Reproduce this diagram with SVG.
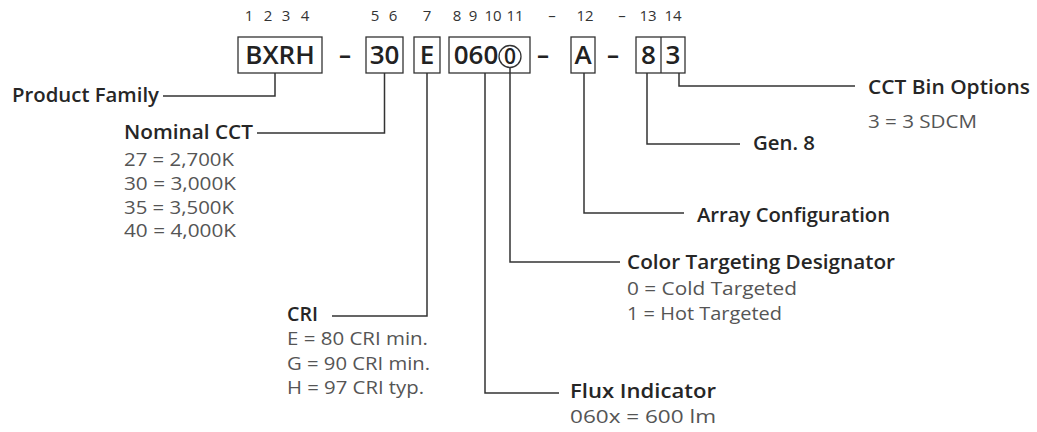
<svg xmlns="http://www.w3.org/2000/svg" width="1037" height="432" viewBox="0 0 1037 432">
<style>
text{font-family:"Open Sans","Liberation Sans",sans-serif}
.box{fill:#fff;stroke:#333;stroke-width:1.3}
.code{font-size:26px;font-weight:600;fill:#222;text-anchor:middle}
.dash{font-size:24px;font-weight:700;fill:#222;text-anchor:middle}
.pos{font-size:15px;fill:#333;text-anchor:middle}
.h{font-size:20px;font-weight:600;fill:#262626}
.v{font-size:18px;font-weight:400;fill:#555}
.conn{fill:none;stroke:#333;stroke-width:1.5}
</style>
<g id="positions">
<text class="pos" x="249" y="21">1</text>
<text class="pos" x="268" y="21">2</text>
<text class="pos" x="286" y="21">3</text>
<text class="pos" x="305" y="21">4</text>
<text class="pos" x="375" y="21">5</text>
<text class="pos" x="393" y="21">6</text>
<text class="pos" x="427" y="21">7</text>
<text class="pos" x="457" y="21">8</text>
<text class="pos" x="473" y="21">9</text>
<text class="pos" x="493" y="21">10</text>
<text class="pos" x="515" y="21">11</text>
<text class="pos" x="552" y="21">–</text>
<text class="pos" x="585" y="21">12</text>
<text class="pos" x="622" y="21">–</text>
<text class="pos" x="648" y="21">13</text>
<text class="pos" x="673" y="21">14</text>
</g>
<g id="code-bxrh"><rect class="box" x="238" y="37" width="84" height="36"/><text class="code" x="280" y="64">BXRH</text></g>
<text class="dash" x="345" y="63">–</text>
<g id="code-30"><rect class="box" x="366" y="37" width="37" height="36"/><text class="code" x="384.5" y="64">30</text></g>
<g id="code-e"><rect class="box" x="414" y="37" width="26" height="36"/><text class="code" x="427" y="64">E</text></g>
<g id="code-0600"><rect class="box" x="449" y="37" width="81" height="36"/><text class="code" x="476" y="64">060</text><circle cx="510" cy="56.5" r="11" fill="none" stroke="#333" stroke-width="1.3"/><text class="code" x="510" y="64" style="font-size:21px">0</text></g>
<text class="dash" x="543" y="63">–</text>
<g id="code-a"><rect class="box" x="571" y="37" width="24" height="36"/><text class="code" x="583" y="64">A</text></g>
<text class="dash" x="613" y="63">–</text>
<g id="code-83"><rect class="box" x="636" y="37" width="49" height="36"/><line x1="661" y1="37" x2="661" y2="73" stroke="#333" stroke-width="1.3"/><text class="code" x="648.5" y="64">8</text><text class="code" x="673" y="64">3</text></g>
<g id="connectors">
<path class="conn" d="M275,73 V96 H163"/>
<path class="conn" d="M384.5,73 V133 H257"/>
<path class="conn" d="M427,73 V316 H332"/>
<path class="conn" d="M485,73 V393 H559"/>
<path class="conn" d="M510,67.5 V262 H620"/>
<path class="conn" d="M584,73 V213 H684"/>
<path class="conn" d="M647,73 V144 H740"/>
<path class="conn" d="M679,73 V86 H855"/>
</g>
<g id="product-family"><text class="h" x="12" y="102" textLength="147" lengthAdjust="spacingAndGlyphs">Product Family</text></g>
<g id="nominal-cct"><text class="h" x="124" y="139" textLength="129" lengthAdjust="spacingAndGlyphs">Nominal CCT</text>
<text class="v" x="124" y="166" textLength="110" lengthAdjust="spacingAndGlyphs">27 = 2,700K</text>
<text class="v" x="124" y="190" textLength="112" lengthAdjust="spacingAndGlyphs">30 = 3,000K</text>
<text class="v" x="124" y="213.5" textLength="110" lengthAdjust="spacingAndGlyphs">35 = 3,500K</text>
<text class="v" x="124" y="237" textLength="112" lengthAdjust="spacingAndGlyphs">40 = 4,000K</text></g>
<g id="cri"><text class="h" x="287" y="321" textLength="31" lengthAdjust="spacingAndGlyphs">CRI</text>
<text class="v" x="287" y="345" textLength="141" lengthAdjust="spacingAndGlyphs">E = 80 CRI min.</text>
<text class="v" x="287" y="369.5" textLength="143" lengthAdjust="spacingAndGlyphs">G = 90 CRI min.</text>
<text class="v" x="287" y="394" textLength="137" lengthAdjust="spacingAndGlyphs">H = 97 CRI typ.</text></g>
<g id="flux"><text class="h" x="570" y="398" textLength="146" lengthAdjust="spacingAndGlyphs">Flux Indicator</text>
<text class="v" x="570" y="423" textLength="146" lengthAdjust="spacingAndGlyphs">060x = 600 lm</text></g>
<g id="color-targeting"><text class="h" x="627" y="269" textLength="268" lengthAdjust="spacingAndGlyphs">Color Targeting Designator</text>
<text class="v" x="627" y="295" textLength="170" lengthAdjust="spacingAndGlyphs">0 = Cold Targeted</text>
<text class="v" x="627" y="320" textLength="155" lengthAdjust="spacingAndGlyphs">1 = Hot Targeted</text></g>
<g id="array"><text class="h" x="697" y="222" textLength="193" lengthAdjust="spacingAndGlyphs">Array Configuration</text></g>
<g id="gen"><text class="h" x="753" y="150" textLength="62" lengthAdjust="spacingAndGlyphs">Gen. 8</text></g>
<g id="cct-bin"><text class="h" x="868" y="94" textLength="162" lengthAdjust="spacingAndGlyphs">CCT Bin Options</text>
<text class="v" x="868" y="128" textLength="109" lengthAdjust="spacingAndGlyphs">3 = 3 SDCM</text></g>
</svg>
